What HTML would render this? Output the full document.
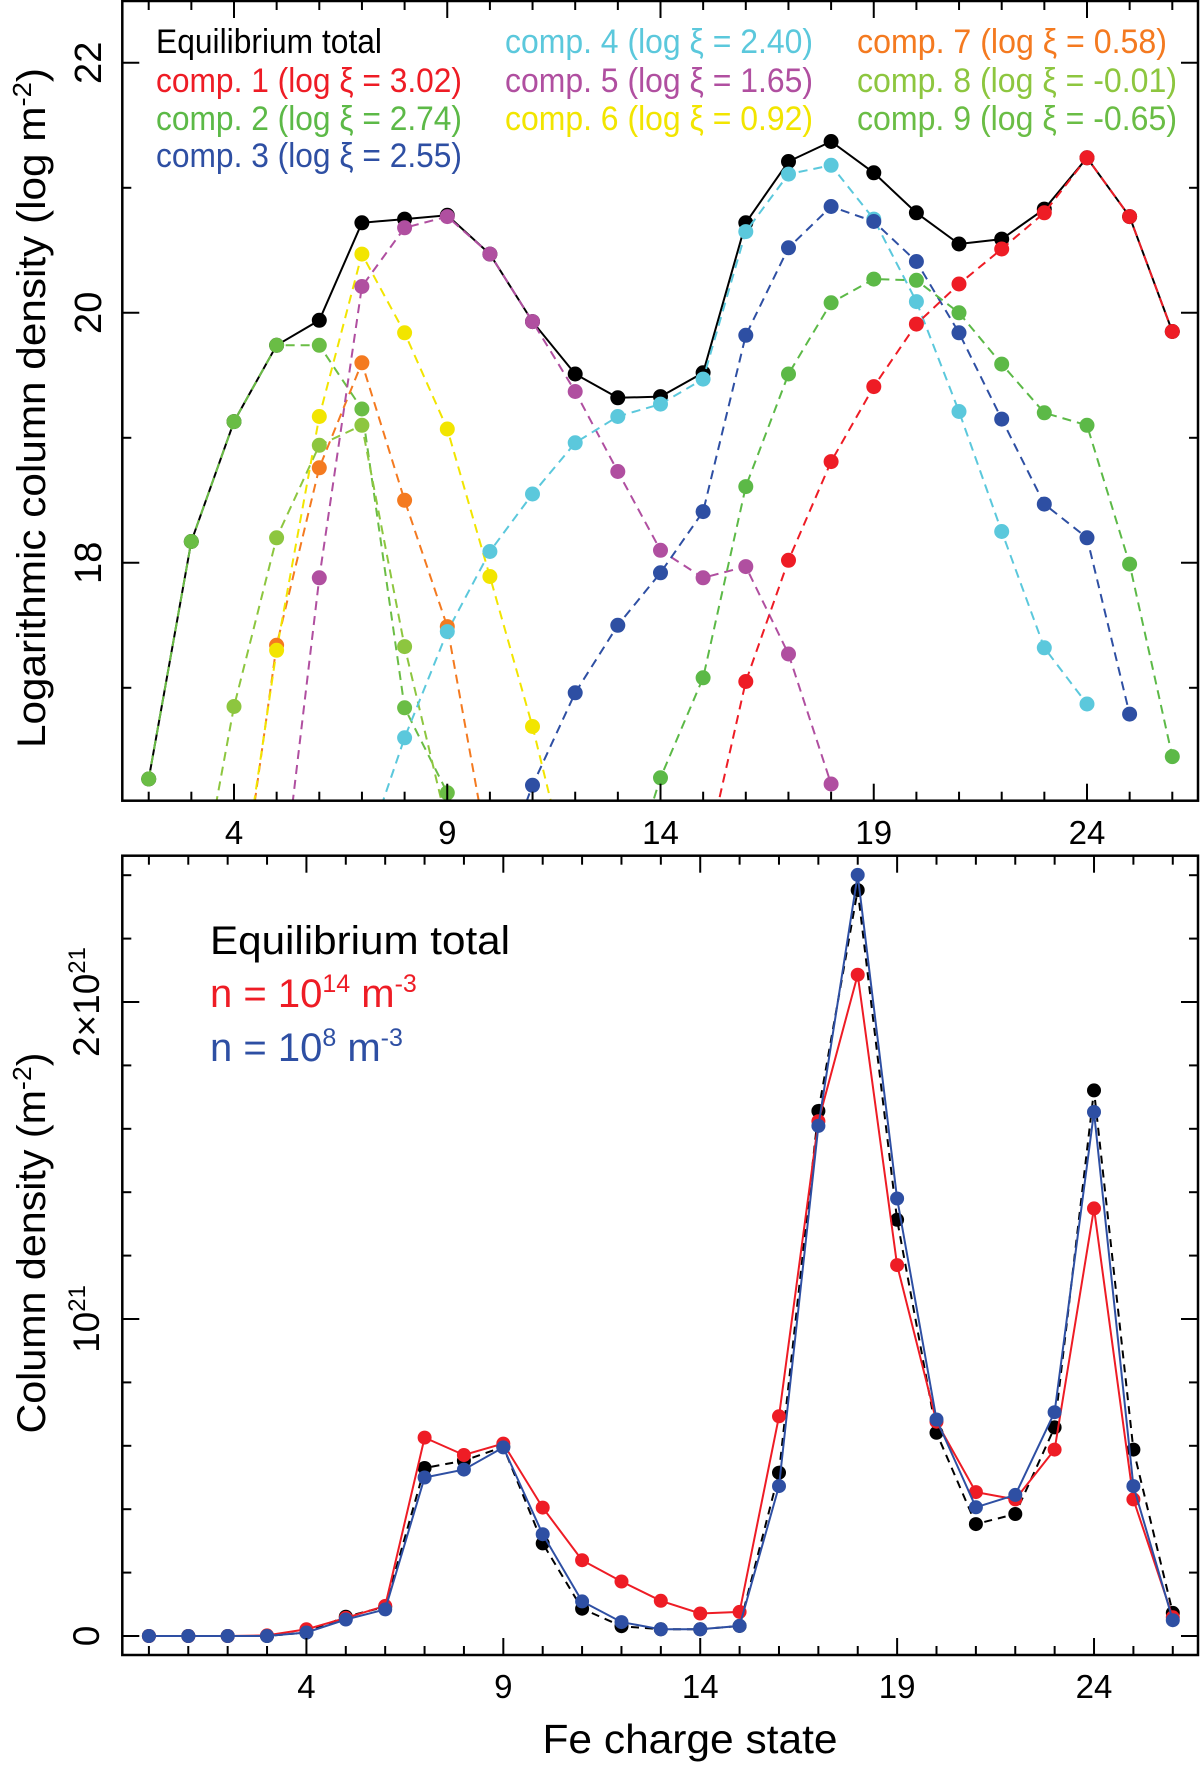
<!DOCTYPE html>
<html><head><meta charset="utf-8"><style>
html,body{margin:0;padding:0;background:#fff}
svg{display:block}
text{font-family:"Liberation Sans",sans-serif}
</style></head><body>
<svg id="fig" width="1200" height="1769" viewBox="0 0 1200 1769" xmlns="http://www.w3.org/2000/svg">
<defs>
<clipPath id="clipTop"><rect x="122" y="1" width="1076" height="800"/></clipPath>
<clipPath id="clipBot"><rect x="122" y="855" width="1076" height="800"/></clipPath>
</defs>
<g id="top"></g>
<g id="bot"></g>
<text transform="translate(45,408) rotate(-90)" text-anchor="middle" font-size="40" textLength="680" lengthAdjust="spacingAndGlyphs">Logarithmic column density (log m<tspan font-size="26" dy="-14">-2</tspan><tspan dy="14">)</tspan></text>
<text transform="translate(45,1243) rotate(-90)" text-anchor="middle" font-size="40" textLength="381" lengthAdjust="spacingAndGlyphs">Column density (m<tspan font-size="26" dy="-14">-2</tspan><tspan dy="14">)</tspan></text>
<text x="690" y="1753" text-anchor="middle" font-size="41" textLength="295" lengthAdjust="spacingAndGlyphs">Fe charge state</text>
<g font-size="34">
<text x="156" y="53" fill="#000" textLength="226" lengthAdjust="spacingAndGlyphs">Equilibrium total</text>
<text x="156" y="92" fill="#ee1c25" textLength="306" lengthAdjust="spacingAndGlyphs">comp. 1 (log ξ = 3.02)</text>
<text x="156" y="130" fill="#5cb947" textLength="306" lengthAdjust="spacingAndGlyphs">comp. 2 (log ξ = 2.74)</text>
<text x="156" y="167" fill="#2e4fa3" textLength="306" lengthAdjust="spacingAndGlyphs">comp. 3 (log ξ = 2.55)</text>
<text x="505" y="53" fill="#5bc8dc" textLength="308" lengthAdjust="spacingAndGlyphs">comp. 4 (log ξ = 2.40)</text>
<text x="505" y="92" fill="#b04fa0" textLength="308" lengthAdjust="spacingAndGlyphs">comp. 5 (log ξ = 1.65)</text>
<text x="505" y="130" fill="#f2e500" textLength="308" lengthAdjust="spacingAndGlyphs">comp. 6 (log ξ = 0.92)</text>
<text x="857" y="53" fill="#f47a20" textLength="310" lengthAdjust="spacingAndGlyphs">comp. 7 (log ξ = 0.58)</text>
<text x="857" y="92" fill="#8dc63f" textLength="320" lengthAdjust="spacingAndGlyphs">comp. 8 (log ξ = -0.01)</text>
<text x="857" y="130" fill="#6abd45" textLength="320" lengthAdjust="spacingAndGlyphs">comp. 9 (log ξ = -0.65)</text>
</g>
<g font-size="40">
<text x="210" y="954" fill="#000" textLength="300" lengthAdjust="spacingAndGlyphs">Equilibrium total</text>
<text x="210" y="1007" fill="#ee1c25">n = 10<tspan font-size="25" dy="-15">14</tspan><tspan dy="15"> m</tspan><tspan font-size="25" dy="-15">-3</tspan></text>
<text x="210" y="1061" fill="#2e4fa3">n = 10<tspan font-size="25" dy="-15">8</tspan><tspan dy="15"> m</tspan><tspan font-size="25" dy="-15">-3</tspan></text>
</g>
</svg>
<script>
// ---- Top panel data (log column density) ----
const topX = [1,2,3,4,5,6,7,8,9,10,11,12,13,14,15,16,17,18,19,20,21,22,23,24,25,26];
const totalTop = [null,16.27,18.17,19.13,19.74,19.94,20.72,20.75,20.78,20.47,19.93,19.51,19.32,19.33,19.52,20.72,21.21,21.37,21.12,20.80,20.55,20.59,20.83,21.24,20.77,19.85];
const comp1 = [null,null,null,null,null,null,null,null,null,null,null,null,null,null,15.54,17.05,18.02,18.81,19.41,19.91,20.23,20.51,20.80,21.24,20.77,19.85];
const comp2 = [null,null,null,null,null,null,null,null,null,null,null,null,15.2,16.28,17.08,18.61,19.51,20.08,20.27,20.26,20.00,19.59,19.20,19.10,17.99,16.45];
const comp3 = [null,null,null,null,null,null,null,null,null,15.3,16.22,16.96,17.50,17.92,18.41,19.82,20.52,20.85,20.73,20.41,19.84,19.15,18.47,18.20,16.79,null];
const comp4 = [null,null,null,null,null,null,15.6,16.60,17.45,18.09,18.55,18.96,19.17,19.27,19.47,20.65,21.11,21.18,20.75,20.09,19.21,18.25,17.32,16.87,null,null];
const comp5 = [null,null,null,null,15.0,17.88,20.21,20.68,20.77,20.47,19.93,19.37,18.73,18.10,17.88,17.97,17.27,16.23,null,null,null,null,null,null,null,null];
const comp6 = [null,null,null,15.0,17.30,19.17,20.47,19.84,19.07,17.89,16.69,15.3,null,null,null,null,null,null,null,null,null,null,null,null,null,null];
const comp7 = [null,null,null,14.9,17.34,18.76,19.60,18.50,17.49,15.6,null,null,null,null,null,null,null,null,null,null,null,null,null,null,null,null];
const comp8 = [null,null,15.0,16.85,18.20,18.94,19.10,17.33,15.9,null,null,null,null,null,null,null,null,null,null,null,null,null,null,null,null,null];
const comp9 = [null,16.27,18.17,19.13,19.74,19.74,19.23,16.84,16.16,15.4,null,null,null,null,null,null,null,null,null,null,null,null,null,null,null,null];
const topTickLabels = [4,9,14,19,24];
const topYTicks = [18,20,22];
const topYMinor = [17,19,21];
// ---- Bottom panel data (column density, units of 1e21 m^-2) ----
const botX = [0,1,2,3,4,5,6,7,8,9,10,11,12,13,14,15,16,17,18,19,20,21,22,23,24,25,26];
const totalBot = [0,0,0,0,0.011,0.061,0.092,0.53,0.553,0.597,0.292,0.086,0.031,0.021,0.021,0.032,0.515,1.656,2.353,1.313,0.641,0.353,0.385,0.658,1.721,0.588,0.073];
const n14 = [0,0,0,0.002,0.021,0.057,0.095,0.626,0.571,0.607,0.405,0.239,0.172,0.111,0.071,0.076,0.693,1.624,2.086,1.17,0.676,0.454,0.431,0.588,1.349,0.431,0.059];
const n8 = [0,0,0,0,0.011,0.052,0.084,0.5,0.525,0.595,0.321,0.109,0.044,0.021,0.021,0.032,0.473,1.609,2.401,1.38,0.683,0.406,0.445,0.706,1.653,0.473,0.05];
const botTickLabels = [4,9,14,19,24];
const botYTicks = [0,1,2];
const botYTickText = ["0","10","2×10"];

const NS="http://www.w3.org/2000/svg";
function mk(parent,tag,attrs){const e=document.createElementNS(NS,tag);for(const k in attrs)e.setAttribute(k,attrs[k]);parent.appendChild(e);return e;}

const L=122.3,R=1198;
const txTop = v => 148.7 + (v-2)*42.65;
const tyTop = v => 62.8 + (22-v)*125.0;
const txBot = v => 148.9 + v*39.38;
const tyBot = v => 1636 - v*317.0;

function drawPanel(g,top,bottom){
  const fr=mk(g,'rect',{x:L,y:top,width:R-L,height:bottom-top,fill:'none',stroke:'#000','stroke-width':2.5});
  
  
}
function series(g,xs,ys,tx,ty,color,dash,name,clip){
  const grp=mk(g,'g',{'clip-path':'url(#'+clip+')'});
  
  
  let d='',pen=false;
  for(let i=0;i<xs.length;i++){
    if(ys[i]==null){pen=false;continue;}
    d+=(pen?'L':'M')+tx(xs[i]).toFixed(1)+' '+ty(ys[i]).toFixed(1)+' ';pen=true;
  }
  const ln=mk(grp,'path',{d:d,fill:'none',stroke:color,'stroke-width':2,'stroke-dasharray':dash||'none'});
  
  
  return grp;
}
function dots(grp,xs,ys,tx,ty,color,name,r){
  for(let i=0;i<xs.length;i++){
    if(ys[i]==null)continue;
    const c=mk(grp,'circle',{cx:tx(xs[i]).toFixed(1),cy:ty(ys[i]).toFixed(1),r:r,fill:color});
    
    
  }
}

// ---- top panel ----
const gt=document.getElementById('top');
const topSeries=[
 [comp9,'#6abd45','comp9'],[comp8,'#8dc63f','comp8'],[comp7,'#f47a20','comp7'],[comp6,'#f2e500','comp6'],
 [comp5,'#b04fa0','comp5'],[comp4,'#5bc8dc','comp4'],[comp3,'#2e4fa3','comp3'],[comp2,'#5cb947','comp2'],[comp1,'#ee1c25','comp1']
];
const tg=series(gt,topX,totalTop,txTop,tyTop,'#000',null,'total-series','clipTop');
topSeries.forEach(s=>{series(gt,topX,s[0],txTop,tyTop,s[1],'9 6',s[2]+'-series','clipTop');});
dots(tg,topX,totalTop,txTop,tyTop,'#000','total',7.5);
topSeries.forEach(s=>{
  const g=mk(gt,'g',{'clip-path':'url(#clipTop)'});
  
  
  dots(g,topX,s[0],txTop,tyTop,s[1],s[2],7.5);
});
drawPanel(gt,1,800.7);
for(let v=2;v<=26;v++){
  const big=topTickLabels.includes(v);
  const x=txTop(v);
  const t1=mk(gt,'line',{x1:x,x2:x,y1:800.7,y2:800.7-(big?17:9),stroke:'#000','stroke-width':2});
  
  
  const t2=mk(gt,'line',{x1:x,x2:x,y1:1,y2:1+(big?17:9),stroke:'#000','stroke-width':2});
  
  
}
topTickLabels.forEach(v=>{
  const t=mk(gt,'text',{x:txTop(v),y:844,'text-anchor':'middle','font-size':33});
  
  
  t.textContent=v;
});
topYTicks.concat(topYMinor).forEach(v=>{
  const y=tyTop(v);const big=topYTicks.includes(v);
  const a=mk(gt,'line',{x1:L,x2:L+(big?17:9),y1:y,y2:y,stroke:'#000','stroke-width':2});
  
  
  const b=mk(gt,'line',{x1:R,x2:R-(big?17:9),y1:y,y2:y,stroke:'#000','stroke-width':2});
  
  
});
topYTicks.forEach(v=>{
  const t=mk(gt,'text',{transform:'translate(101,'+tyTop(v)+') rotate(-90)','text-anchor':'middle','font-size':38});
  
  
  t.textContent=v;
});

// ---- bottom panel ----
const gb=document.getElementById('bot');
const sb1=series(gb,botX,totalBot,txBot,tyBot,'#000','8 6','total-series','clipBot');
const sb2=series(gb,botX,n14,txBot,tyBot,'#ee1c25',null,'n14-series','clipBot');
const sb3=series(gb,botX,n8,txBot,tyBot,'#2e4fa3',null,'n8-series','clipBot');
dots(sb1,botX,totalBot,txBot,tyBot,'#000','total',7);
dots(sb2,botX,n14,txBot,tyBot,'#ee1c25','n14',7);
dots(sb3,botX,n8,txBot,tyBot,'#2e4fa3','n8',7);
drawPanel(gb,855.7,1655);
for(let v=0;v<=26;v++){
  const big=botTickLabels.includes(v);
  const x=txBot(v);
  const t1=mk(gb,'line',{x1:x,x2:x,y1:1655,y2:1655-(big?17:9),stroke:'#000','stroke-width':2});
  
  
  const t2=mk(gb,'line',{x1:x,x2:x,y1:855.7,y2:855.7+(big?17:9),stroke:'#000','stroke-width':2});
  
  
}
botTickLabels.forEach(v=>{
  const t=mk(gb,'text',{x:txBot(v),y:1698,'text-anchor':'middle','font-size':33});
  
  
  t.textContent=v;
});
for(let k=0;k<=12;k++){
  const v=k*0.2;const y=tyBot(v);if(y<856)continue;
  const big=(k%5===0);
  const a=mk(gb,'line',{x1:L,x2:L+(big?17:9),y1:y,y2:y,stroke:'#000','stroke-width':2});
  
  
  const b=mk(gb,'line',{x1:R,x2:R-(big?17:9),y1:y,y2:y,stroke:'#000','stroke-width':2});
  
  
}
botYTicks.forEach((v,i)=>{
  const t=mk(gb,'text',{transform:'translate(99,'+tyBot(v)+') rotate(-90)','text-anchor':'middle','font-size':37});
  
  
  t.textContent=botYTickText[i];
  if(v>0){const s=mk(t,'tspan',{'font-size':24,dy:-14});s.textContent='21';}
});
</script>
</body></html>
